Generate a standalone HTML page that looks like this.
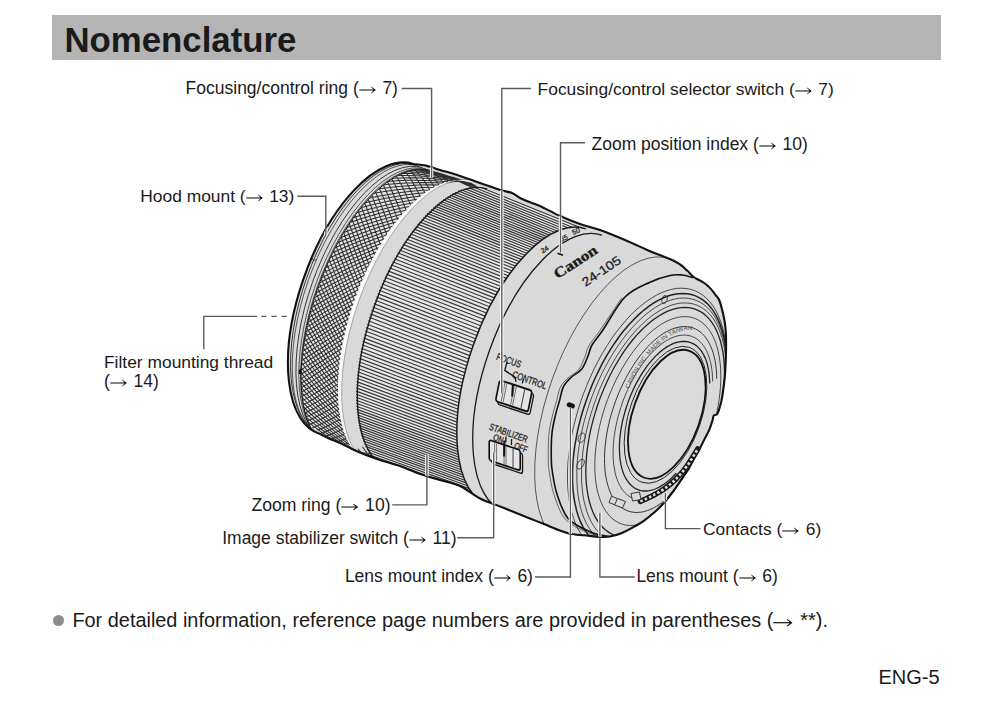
<!DOCTYPE html>
<html><head><meta charset="utf-8"><style>
html,body{margin:0;padding:0;background:#fff}
body{width:999px;height:710px;position:relative;overflow:hidden;font-family:"Liberation Sans",sans-serif;color:#1a1a1a}
.hdr{position:absolute;left:52px;top:15px;width:889px;height:45px;background:#b4b4b4}
.h1{position:absolute;left:64.4px;top:18.9px;font-size:34.8px;font-weight:bold;line-height:1.2;white-space:nowrap}
.l{position:absolute;white-space:nowrap;line-height:1.2}
.ar{width:1.074em;height:0.5714em;vertical-align:-0.05em}
.bul{position:absolute;left:53.1px;top:615.2px;width:11px;height:11px;border-radius:50%;background:#8c8c8c}
svg.main{position:absolute;left:0;top:0}
</style></head><body>
<div class="hdr"></div>
<div class="h1">Nomenclature</div>
<svg class="main" width="999" height="710" viewBox="0 0 999 710">
<defs><clipPath id="sil"><path d="M412 164 C414.3 164.3 421.3 164.6 426 165.6 C430.7 166.6 434.3 168.3 440 170 C445.7 171.7 453.3 173.8 460 176 C466.7 178.2 473.3 180.7 480 183 C486.7 185.3 494.7 188.3 500 190 C505.3 191.7 508.7 191.7 512 193 C515.3 194.3 517.3 196.6 520 198 C522.7 199.4 524.7 200.3 528 201.6 C531.3 202.9 534.7 203.6 540 206 C545.3 208.4 553.3 213 560 216 C566.7 219 573.3 221.7 580 224 C586.7 226.3 592.5 227.3 600 230 C607.5 232.7 616.7 236.5 625 240 C633.3 243.5 643.9 248.6 650 251.2 C656.1 253.8 657.7 254.2 661.6 255.8 C665.5 257.4 670 258.9 673.2 260.5 C676.4 262.1 678.7 263.4 681 265.1 C683.3 266.8 685.1 268.7 687.2 270.6 C689.3 272.6 691.6 275.3 693.4 276.8 C695.2 278.3 696.2 278.5 698 279.5 C699.8 280.5 702.1 281.5 704.2 283 C706.3 284.5 708.5 286.3 710.4 288.4 C712.3 290.4 714.3 293.4 715.8 295.3 C717.3 297.2 718.1 297.3 719.2 300 C720.3 302.7 721.6 307.6 722.5 311.3 C723.4 315.1 724.2 318.8 724.8 322.5 C725.4 326.2 725.7 330.1 725.9 333.8 C726.1 337.6 726.1 341.2 726.1 345 C726.1 348.8 726 352.5 725.9 356.3 C725.8 360.1 725.6 363.8 725.4 367.6 C725.2 371.4 725 375.2 724.6 378.9 C724.2 382.6 723.8 386.2 723.2 390 C722.7 393.8 722.2 397.5 721.3 401.4 C720.3 405.3 718.8 411.1 717.5 413.5 C716.2 415.9 714.6 414.4 713.8 415.5 C713 416.6 713.4 417.6 712.6 420 C711.9 422.4 710.7 426.4 709.3 429.6 C707.9 432.8 706 436.1 704.4 439.4 C702.8 442.7 701.2 445.9 699.4 449.3 C697.5 452.7 695.1 456.7 693.3 460 C691.5 463.3 690.3 466.2 688.6 469 C686.9 471.8 685.8 473.1 683.2 476.9 C680.6 480.6 676.3 487.2 673.1 491.5 C669.9 495.8 667 499.4 664 502.8 C661 506.2 658.4 508.8 655 511.8 C651.6 514.8 647.5 518.2 643.8 520.8 C640 523.4 636.2 525.5 632.5 527.6 C628.8 529.7 625 531.7 621.3 533.2 C617.5 534.7 613.5 535.9 610 536.5 C606.5 537.1 604.5 537.1 600.2 536.9 C595.9 536.7 589.3 535.8 584.2 535.3 C579.1 534.8 573.7 534.5 569.7 533.7 C565.7 532.9 564.3 532.1 560 530.5 C555.7 528.9 549.3 526.2 544 524.1 C538.7 522 533.3 519.8 528 517.7 C522.7 515.6 517.3 513.4 512 511.3 C506.7 509.2 501.3 507 496 504.9 C490.7 502.8 486 501.6 480 498.5 C474 495.4 466.7 489.1 460 486 C453.3 482.9 446.7 482 440 480 C433.3 478 426.7 476.3 420 474 C413.3 471.7 406.7 468.3 400 466 C393.3 463.7 385.7 461.8 380 460 C374.3 458.2 370.7 456.8 366 455 C361.3 453.2 356.3 451 352 449 C347.7 447 343.7 444.7 340 443 C336.3 441.3 333.3 440.5 330 439 C326.7 437.5 321.7 434.8 320 434 A65.3 141.6 19.5 0 1 412.6 163.7Z"/></clipPath>
<pattern id="kn" width="4.8" height="5.2" patternUnits="userSpaceOnUse" patternTransform="rotate(-8)"><rect width="4.8" height="5.2" fill="#333"/><path d="M2.40 0.68L4.18 2.60L2.40 4.52L0.62 2.60Z M0.00 -1.92L1.78 0.00L0.00 1.92L-1.78 0.00Z M4.80 -1.92L6.58 0.00L4.80 1.92L3.02 0.00Z M0.00 3.28L1.78 5.20L0.00 7.12L-1.78 5.20Z M4.80 3.28L6.58 5.20L4.80 7.12L3.02 5.20Z" fill="#e2e2e2"/></pattern>
</defs>
<path d="M412 164 C414.3 164.3 421.3 164.6 426 165.6 C430.7 166.6 434.3 168.3 440 170 C445.7 171.7 453.3 173.8 460 176 C466.7 178.2 473.3 180.7 480 183 C486.7 185.3 494.7 188.3 500 190 C505.3 191.7 508.7 191.7 512 193 C515.3 194.3 517.3 196.6 520 198 C522.7 199.4 524.7 200.3 528 201.6 C531.3 202.9 534.7 203.6 540 206 C545.3 208.4 553.3 213 560 216 C566.7 219 573.3 221.7 580 224 C586.7 226.3 592.5 227.3 600 230 C607.5 232.7 616.7 236.5 625 240 C633.3 243.5 643.9 248.6 650 251.2 C656.1 253.8 657.7 254.2 661.6 255.8 C665.5 257.4 670 258.9 673.2 260.5 C676.4 262.1 678.7 263.4 681 265.1 C683.3 266.8 685.1 268.7 687.2 270.6 C689.3 272.6 691.6 275.3 693.4 276.8 C695.2 278.3 696.2 278.5 698 279.5 C699.8 280.5 702.1 281.5 704.2 283 C706.3 284.5 708.5 286.3 710.4 288.4 C712.3 290.4 714.3 293.4 715.8 295.3 C717.3 297.2 718.1 297.3 719.2 300 C720.3 302.7 721.6 307.6 722.5 311.3 C723.4 315.1 724.2 318.8 724.8 322.5 C725.4 326.2 725.7 330.1 725.9 333.8 C726.1 337.6 726.1 341.2 726.1 345 C726.1 348.8 726 352.5 725.9 356.3 C725.8 360.1 725.6 363.8 725.4 367.6 C725.2 371.4 725 375.2 724.6 378.9 C724.2 382.6 723.8 386.2 723.2 390 C722.7 393.8 722.2 397.5 721.3 401.4 C720.3 405.3 718.8 411.1 717.5 413.5 C716.2 415.9 714.6 414.4 713.8 415.5 C713 416.6 713.4 417.6 712.6 420 C711.9 422.4 710.7 426.4 709.3 429.6 C707.9 432.8 706 436.1 704.4 439.4 C702.8 442.7 701.2 445.9 699.4 449.3 C697.5 452.7 695.1 456.7 693.3 460 C691.5 463.3 690.3 466.2 688.6 469 C686.9 471.8 685.8 473.1 683.2 476.9 C680.6 480.6 676.3 487.2 673.1 491.5 C669.9 495.8 667 499.4 664 502.8 C661 506.2 658.4 508.8 655 511.8 C651.6 514.8 647.5 518.2 643.8 520.8 C640 523.4 636.2 525.5 632.5 527.6 C628.8 529.7 625 531.7 621.3 533.2 C617.5 534.7 613.5 535.9 610 536.5 C606.5 537.1 604.5 537.1 600.2 536.9 C595.9 536.7 589.3 535.8 584.2 535.3 C579.1 534.8 573.7 534.5 569.7 533.7 C565.7 532.9 564.3 532.1 560 530.5 C555.7 528.9 549.3 526.2 544 524.1 C538.7 522 533.3 519.8 528 517.7 C522.7 515.6 517.3 513.4 512 511.3 C506.7 509.2 501.3 507 496 504.9 C490.7 502.8 486 501.6 480 498.5 C474 495.4 466.7 489.1 460 486 C453.3 482.9 446.7 482 440 480 C433.3 478 426.7 476.3 420 474 C413.3 471.7 406.7 468.3 400 466 C393.3 463.7 385.7 461.8 380 460 C374.3 458.2 370.7 456.8 366 455 C361.3 453.2 356.3 451 352 449 C347.7 447 343.7 444.7 340 443 C336.3 441.3 333.3 440.5 330 439 C326.7 437.5 321.7 434.8 320 434 A65.3 141.6 19.5 0 1 412.6 163.7Z" fill="#d9d9d9"/>
<g clip-path="url(#sil)">
<path d="M430.7 170.7 A68.2 148 19.5 0 0 331.9 449.7 L369.8 462.5 A68.5 148.6 19.5 0 1 469 182.3Z" fill="#e3e3e3"/>
<path d="M447 183 451.1 182.1 454.9 181.6 458.6 181.3 462.2 181.3 465.7 181.7 469 182.3M444.1 179.6 448 179.1 451.7 178.9 455.2 179 458.7 179.4 462 180.2 465.1 181.2M441 176.7 444.7 176.5 448.2 176.7 451.6 177.2 454.9 178 458.1 179.1 461.1 180.6M437.7 174.2 441.2 174.4 444.6 175 447.8 175.9 451 177.1 454 178.6 456.9 180.5M434.2 172.2 437.5 172.8 440.8 173.7 443.9 175 446.9 176.6 449.8 178.6 452.6 180.8M430.5 170.6 433.7 171.6 436.8 173 439.8 174.7 442.7 176.7 445.5 179 448.2 181.7M426.6 169.5 429.7 171 432.7 172.7 435.6 174.8 438.4 177.2 441.1 180 443.7 183M422.6 169 425.6 170.8 428.4 172.9 431.2 175.4 433.9 178.2 436.5 181.4 439.1 184.8M418.4 168.9 421.3 171.1 424.1 173.6 426.7 176.5 429.4 179.7 431.9 183.3 434.4 187.1M414.2 169.3 416.9 171.9 419.6 174.8 422.2 178.1 424.8 181.7 427.3 185.6 429.7 189.9M409.8 170.1 412.4 173.1 415 176.5 417.6 180.2 420.1 184.2 422.5 188.5 425 193.1M405.3 171.5 407.8 174.9 410.4 178.6 412.9 182.7 415.3 187.1 417.8 191.7 420.2 196.7M400.7 173.3 403.2 177.1 405.7 181.2 408.2 185.7 410.6 190.4 413 195.5 415.4 200.8M396 175.6 398.5 179.8 401 184.3 403.4 189.1 405.8 194.2 408.2 199.6 410.7 205.3M391.5 178.3 394 182.8 396.4 187.7 398.8 192.8 401.3 198.3 403.7 204 406.1 210M387.2 181.2 389.6 186.1 392 191.2 394.5 196.7 396.9 202.5 399.4 208.5 401.8 214.8M383 184.3 385.4 189.5 387.9 195 390.3 200.8 392.8 206.8 395.3 213.1 397.8 219.7M379 187.6 381.4 193.1 383.9 198.9 386.3 205 388.8 211.3 391.4 217.9 393.9 224.7M375.2 191.1 377.6 196.9 380.1 202.9 382.6 209.2 385.1 215.8 387.7 222.6 390.3 229.7M371.5 194.7 373.9 200.8 376.4 207.1 378.9 213.6 381.5 220.4 384.1 227.5 386.8 234.7M367.9 198.5 370.4 204.8 372.9 211.3 375.5 218.1 378.1 225.1 380.8 232.3 383.5 239.8M364.4 202.3 367 208.8 369.5 215.6 372.1 222.6 374.8 229.8 377.6 237.2 380.4 244.8M361.1 206.3 363.7 213 366.3 220 368.9 227.1 371.7 234.5 374.5 242.1 377.4 249.9M357.9 210.3 360.5 217.2 363.2 224.4 365.9 231.8 368.7 239.3 371.6 247.1 374.6 255M354.8 214.4 357.4 221.5 360.2 228.9 362.9 236.4 365.8 244.1 368.8 252 371.9 260.1M351.8 218.6 354.5 225.9 357.3 233.4 360.1 241.1 363.1 249 366.1 257 369.3 265.2M348.9 222.9 351.6 230.3 354.5 238 357.4 245.8 360.5 253.8 363.6 262 366.8 270.3M346 227.2 348.9 234.8 351.8 242.6 354.8 250.5 357.9 258.7 361.2 267 364.5 275.4M343.3 231.5 346.2 239.3 349.2 247.2 352.3 255.3 355.5 263.6 358.8 271.9 362.3 280.4M340.7 235.9 343.7 243.8 346.7 251.9 349.9 260.1 353.2 268.4 356.6 276.9 360.2 285.5M338.1 240.4 341.2 248.4 344.3 256.6 347.6 264.9 351 273.3 354.5 281.9 358.2 290.5M335.7 244.9 338.8 253 342 261.3 345.4 269.7 348.9 278.2 352.5 286.9 356.3 295.6M333.3 249.5 336.5 257.7 339.8 266.1 343.3 274.5 346.9 283.1 350.6 291.8 354.4 300.6M331 254 334.3 262.4 337.7 270.8 341.3 279.4 345 288.1 348.8 296.8 352.7 305.6M328.8 258.7 332.2 267.1 335.7 275.6 339.3 284.2 343.1 293 347 301.8 351.1 310.6M326.6 263.3 330.1 271.8 333.7 280.4 337.5 289.1 341.4 297.9 345.4 306.7 349.6 315.6M324.6 268 328.2 276.6 331.9 285.2 335.7 294 339.7 302.8 343.9 311.6 348.2 320.5M322.6 272.7 326.3 281.3 330.1 290.1 334.1 298.9 338.2 307.7 342.4 316.6 346.9 325.5M320.7 277.5 324.5 286.1 328.4 294.9 332.5 303.7 336.7 312.6 341.1 321.5 345.6 330.4M318.9 282.2 322.8 291 326.8 299.8 331 308.6 335.3 317.5 339.8 326.4 344.5 335.3M317.1 287 321.1 295.8 325.2 304.6 329.5 313.5 334 322.4 338.6 331.3 343.4 340.1M315.5 291.8 319.5 300.7 323.8 309.5 328.2 318.4 332.8 327.3 337.5 336.1 342.5 345M313.9 296.7 318.1 305.5 322.4 314.4 327 323.3 331.7 332.2 336.5 341 341.6 349.8M312.3 301.6 316.7 310.4 321.1 319.3 325.8 328.2 330.6 337 335.6 345.8 340.8 354.6M310.9 306.5 315.3 315.3 319.9 324.2 324.7 333 329.7 341.9 334.8 350.7 340.1 359.4M309.6 311.4 314.1 320.2 318.8 329.1 323.7 337.9 328.8 346.7 334.1 355.4 339.5 364.1M308.3 316.3 313 325.2 317.8 334 322.8 342.8 328 351.5 333.4 360.2 339 368.8M307.1 321.2 311.9 330.1 316.9 338.9 322 347.7 327.4 356.4 332.9 365 338.6 373.5M306 326.2 310.9 335 316 343.8 321.3 352.5 326.8 361.1 332.5 369.7 338.3 378.1M305 331.2 310 340 315.3 348.7 320.7 357.4 326.3 365.9 332.1 374.4 338.1 382.7M304 336.2 309.2 344.9 314.6 353.6 320.2 362.2 325.9 370.7 331.9 379.1 338 387.3M303.2 341.2 308.5 349.9 314 358.5 319.7 367 325.6 375.4 331.7 383.7 338 391.8M302.4 346.2 307.9 354.8 313.6 363.4 319.4 371.8 325.5 380.1 331.7 388.3 338.1 396.3M301.8 351.3 307.4 359.8 313.2 368.3 319.2 376.6 325.4 384.8 331.8 392.8 338.3 400.7M301.3 356.3 307 364.8 313 373.1 319.1 381.4 325.4 389.4 331.9 397.4 338.6 405.1M300.8 361.3 306.7 369.7 312.8 378 319.1 386.1 325.6 394 332.2 401.8 339.1 409.4M300.5 366.4 306.5 374.7 312.8 382.8 319.2 390.8 325.9 398.6 332.7 406.3 339.7 413.7M300.3 371.4 306.5 379.6 312.9 387.6 319.5 395.5 326.3 403.1 333.2 410.6 340.4 417.9M300.2 376.5 306.6 384.5 313.1 392.4 319.9 400.1 326.8 407.6 333.9 414.9 341.3 422M300.3 381.6 306.8 389.4 313.5 397.2 320.4 404.7 327.5 412.1 334.8 419.2 342.3 426.1M300.4 386.6 307.1 394.3 314 401.9 321.1 409.3 328.4 416.4 335.8 423.3 343.4 430M300.8 391.6 307.7 399.2 314.7 406.6 321.9 413.8 329.4 420.7 337 427.4 344.7 433.9M301.3 396.6 308.3 404 315.5 411.2 323 418.2 330.5 424.9 338.3 431.4 346.2 437.7M302 401.6 309.2 408.8 316.6 415.8 324.2 422.5 331.9 429.1 339.8 435.3 347.9 441.3M302.9 406.5 310.2 413.5 317.8 420.3 325.6 426.8 333.5 433.1 341.6 439.1 349.8 444.8M303.9 411.4 311.5 418.2 319.3 424.7 327.2 431 335.3 437 343.5 442.7 352 448.1M305.3 416.3 313 422.8 320.9 429 329.1 435 337.3 440.7 345.8 446.1 354.4 451.3M306.8 421 314.8 427.2 322.9 433.2 331.2 438.9 339.6 444.3 348.2 449.4 357 454.2M308.7 425.6 316.8 431.6 325.2 437.2 333.6 442.6 342.2 447.6 351 452.4 359.9 456.9M310.9 430.1 319.2 435.7 327.7 441 336.4 446 345.2 450.8 354.1 455.2 363.2 459.3M313.4 434.3 321.9 439.5 330.6 444.5 339.4 449.1 348.4 453.5 357.5 457.5 366.8 461.2M316.1 438 324.8 442.9 333.7 447.5 342.7 451.8 351.8 455.8 361.1 459.4 370.5 462.7M319 441.4 327.9 445.9 337 450.1 346.1 454 355.4 457.6 364.9 460.8 374.4 463.7M322.2 444.2 331.3 448.4 340.5 452.2 349.8 455.7 359.2 458.9 368.8 461.7 378.5 464.3M325.5 446.6 334.8 450.4 344.1 453.8 353.6 456.9 363.2 459.7 372.9 462.2 382.7 464.3M329.1 448.6 338.5 451.9 348 455 357.6 457.7 367.3 460.1 377.1 462.1 387 463.8M332.8 450 342.3 453 352 455.6 361.7 457.9 371.5 459.9 381.4 461.6 391.4 462.9M336.7 451 346.4 453.6 356.1 455.8 366 457.7 375.9 459.3 385.9 460.5 396 461.5M340.8 451.5 350.5 453.7 360.4 455.5 370.3 457 380.3 458.2 390.4 459 400.6 459.6M345 451.5 354.8 453.3 364.8 454.7 374.8 455.8 384.9 456.6 395 457.1 405.2 457.2M349.3 451 359.2 452.4 369.3 453.4 379.4 454.1 389.5 454.5 399.7 454.6 410 454.4M430.7 170.7 440.1 173.9 449.5 177.4 458.6 181.3 467.7 185.4 476.6 189.9 485.4 194.7M426.8 169.6 436.4 172.4 445.9 175.5 455.2 179 464.4 182.8 473.5 186.9 482.5 191.3M422.8 169 432.5 171.4 442.1 174.1 451.6 177.2 461 180.6 470.2 184.3 479.4 188.3M418.7 168.9 428.5 170.9 438.2 173.2 447.8 175.9 457.4 178.9 466.8 182.2 476 185.8M414.4 169.2 424.3 170.8 434.1 172.8 443.9 175 453.5 177.6 463.1 180.5 472.5 183.8M410 170.1 420 171.3 429.9 172.8 439.8 174.7 449.6 176.9 459.2 179.4 468.8 182.2M405.5 171.4 415.6 172.2 425.6 173.3 435.6 174.8 445.4 176.6 455.2 178.7 464.9 181.2M400.9 173.2 411.1 173.6 421.2 174.4 431.2 175.4 441.2 176.8 451.1 178.5 460.9 180.6M396.3 175.5 406.5 175.5 416.6 175.8 426.7 176.5 436.8 177.5 446.8 178.8 456.7 180.5M391.6 178.2 401.8 177.9 412 177.8 422.2 178.1 432.3 178.7 442.4 179.6 452.4 180.9M386.9 181.4 397.1 180.7 407.4 180.3 417.6 180.2 427.8 180.4 437.9 180.9 448 181.8M382.1 185 392.4 184 402.6 183.2 412.9 182.7 423.1 182.5 433.3 182.7 443.5 183.1M377.3 189.1 387.6 187.7 397.9 186.5 408.2 185.7 418.4 185.1 428.6 184.9 438.9 185M372.6 193.6 382.9 191.8 393.1 190.3 403.4 189.1 413.7 188.2 423.9 187.6 434.2 187.3M368.1 198.3 378.3 196.2 388.6 194.4 398.8 192.8 409.1 191.6 419.4 190.6 429.7 189.9M363.8 203.1 374 200.7 384.2 198.6 394.5 196.7 404.7 195.1 415 193.8 425.3 192.8M359.8 207.9 369.9 205.3 380.1 202.9 390.3 200.8 400.6 198.9 410.8 197.3 421.1 196M355.9 212.9 366 210 376.2 207.4 386.3 205 396.6 202.8 406.8 200.9 417.1 199.3M352.3 217.9 362.3 214.8 372.4 211.9 382.6 209.2 392.8 206.8 403 204.7 413.2 202.8M348.8 222.9 358.8 219.6 368.8 216.5 378.9 213.6 389.1 211 399.3 208.6 409.5 206.5M345.6 227.9 355.5 224.4 365.4 221.1 375.5 218.1 385.6 215.2 395.7 212.6 405.9 210.2M342.5 233 352.3 229.3 362.2 225.8 372.1 222.6 382.2 219.5 392.3 216.7 402.5 214.1M339.5 238 349.2 234.2 359 230.6 368.9 227.1 378.9 223.9 389 220.9 399.1 218.1M336.7 243.1 346.3 239.1 356 235.4 365.9 231.8 375.8 228.3 385.8 225.1 395.9 222.1M334 248.2 343.5 244.1 353.2 240.2 362.9 236.4 372.8 232.8 382.7 229.4 392.8 226.2M331.4 253.2 340.9 249 350.4 245 360.1 241.1 369.9 237.4 379.8 233.8 389.7 230.4M329 258.3 338.3 254 347.8 249.8 357.4 245.8 367.1 241.9 376.9 238.2 386.8 234.7M326.6 263.4 335.9 259 345.3 254.7 354.8 250.5 364.4 246.5 374.2 242.7 384 239M324.4 268.4 333.6 263.9 342.9 259.6 352.3 255.3 361.9 251.2 371.5 247.2 381.3 243.4M322.3 273.4 331.4 268.9 340.6 264.4 349.9 260.1 359.4 255.9 368.9 251.8 378.6 247.8M320.3 278.5 329.3 273.9 338.4 269.3 347.6 264.9 357 260.6 366.5 256.4 376.1 252.3M318.4 283.5 327.3 278.8 336.3 274.2 345.4 269.7 354.7 265.3 364.1 261 373.6 256.8M316.6 288.5 325.4 283.8 334.3 279.1 343.3 274.5 352.5 270.1 361.8 265.7 371.2 261.4M314.9 293.5 323.5 288.7 332.3 284 341.3 279.4 350.3 274.8 359.6 270.4 368.9 266M313.3 298.4 321.8 293.7 330.5 288.9 339.3 284.2 348.3 279.6 357.4 275.1 366.7 270.6M311.8 303.4 320.2 298.6 328.8 293.8 337.5 289.1 346.4 284.4 355.4 279.8 364.5 275.3M310.4 308.3 318.7 303.5 327.1 298.7 335.7 294 344.5 289.3 353.4 284.6 362.5 280M309.1 313.2 317.2 308.4 325.6 303.6 334.1 298.9 342.7 294.1 351.5 289.4 360.5 284.8M307.8 318.1 315.9 313.3 324.1 308.5 332.5 303.7 341 299 349.7 294.2 358.6 289.5M306.7 323 314.6 318.2 322.7 313.4 331 308.6 339.4 303.8 348 299 356.7 294.3M305.6 327.9 313.4 323.1 321.4 318.3 329.5 313.5 337.9 308.7 346.3 303.9 355 299.1M304.7 332.7 312.3 328 320.2 323.2 328.2 318.4 336.4 313.6 344.8 308.8 353.3 304M303.8 337.5 311.3 332.8 319.1 328.1 327 323.3 335 318.5 343.3 313.7 351.7 308.8M303 342.3 310.4 337.6 318 332.9 325.8 328.2 333.8 323.4 341.9 318.6 350.2 313.7M302.3 347 309.6 342.4 317.1 337.8 324.7 333 332.5 328.3 340.6 323.5 348.7 318.6M301.7 351.7 308.9 347.2 316.2 342.6 323.7 337.9 331.4 333.2 339.3 328.4 347.4 323.6M301.2 356.4 308.3 352 315.5 347.4 322.8 342.8 330.4 338.1 338.2 333.3 346.1 328.5M300.8 361.1 307.7 356.7 314.8 352.2 322 347.7 329.5 343 337.1 338.3 344.9 333.5M300.5 365.7 307.3 361.4 314.2 357 321.3 352.5 328.6 347.9 336.1 343.2 343.8 338.5M300.3 370.3 306.9 366.1 313.7 361.8 320.7 357.4 327.9 352.8 335.2 348.2 342.7 343.5M300.2 374.8 306.7 370.8 313.3 366.5 320.2 362.2 327.2 357.7 334.4 353.2 341.8 348.5M300.2 379.3 306.5 375.4 313 371.3 319.7 367 326.6 362.6 333.7 358.1 341 353.5M300.3 383.8 306.5 380 312.9 376 319.4 371.8 326.2 367.5 333.1 363.1 340.2 358.6M300.5 388.2 306.6 384.5 312.8 380.6 319.2 376.6 325.8 372.4 332.6 368.1 339.6 363.6M300.9 392.6 306.8 389 312.8 385.3 319.1 381.4 325.6 377.3 332.2 373 339 368.7M301.3 396.9 307.1 393.5 313 389.9 319.1 386.1 325.4 382.1 331.9 378 338.6 373.7M301.9 401.1 307.5 397.9 313.3 394.4 319.2 390.8 325.4 387 331.7 383 338.3 378.8M302.6 405.3 308.1 402.3 313.7 399 319.5 395.5 325.5 391.8 331.7 387.9 338.1 383.9M303.5 409.4 308.8 406.5 314.2 403.4 319.9 400.1 325.7 396.6 331.8 392.9 338 389M304.5 413.5 309.6 410.8 314.9 407.9 320.4 404.7 326.1 401.4 332 397.8 338 394M305.6 417.4 310.6 414.9 315.8 412.2 321.1 409.3 326.6 406.1 332.3 402.7 338.2 399.1M306.9 421.3 311.8 419 316.8 416.5 321.9 413.8 327.3 410.8 332.8 407.6 338.6 404.1M308.4 425 313.1 423 317.9 420.7 323 418.2 328.1 415.4 333.5 412.4 339.1 409.2M310.1 428.6 314.6 426.9 319.3 424.8 324.2 422.5 329.2 420 334.4 417.2 339.8 414.2M312 432.1 316.4 430.6 320.9 428.8 325.6 426.8 330.4 424.5 335.4 421.9 340.6 419.1M314.1 435.4 318.3 434.2 322.7 432.7 327.2 431 331.9 428.9 336.7 426.6 341.7 424.1M316.5 438.6 320.5 437.7 324.7 436.5 329.1 435 333.6 433.2 338.2 431.2 343.1 428.9M319.2 441.5 323 440.9 327 440 331.2 438.9 335.5 437.4 340 435.7 344.6 433.7M322.1 444.1 325.8 443.9 329.6 443.4 333.6 442.6 337.8 441.4 342.1 440 346.5 438.3M325.4 446.5 328.9 446.7 332.6 446.5 336.4 446 340.3 445.3 344.4 444.2 348.7 442.8M328.9 448.5 332.3 449 335.8 449.2 339.4 449.1 343.2 448.7 347.1 448 351.2 447M332.6 450 335.8 450.9 339.2 451.5 342.7 451.8 346.3 451.8 350 451.4 353.9 450.8M336.5 451 339.6 452.3 342.8 453.3 346.1 454 349.6 454.3 353.2 454.4 356.9 454.1M340.5 451.5 343.5 453.2 346.6 454.6 349.8 455.7 353.1 456.4 356.5 456.9 360.1 457M344.7 451.5 347.6 453.6 350.5 455.5 353.6 456.9 356.8 458.1 360 458.9 363.4 459.4M349 451.1 351.8 453.6 354.6 455.8 357.6 457.7 360.6 459.2 363.7 460.4 367 461.3M353.4 450.1 356.1 453.1 358.9 455.7 361.7 457.9 364.6 459.9 367.6 461.5 370.7 462.8M358 448.7 360.6 452 363.2 455 366 457.7 368.8 460.1 371.7 462.1 374.6 463.8M362.5 446.8 365.1 450.5 367.7 453.9 370.3 457 373 459.8 375.8 462.2 378.7 464.3M367.2 444.5 369.7 448.6 372.2 452.3 374.8 455.8 377.4 459 380.1 461.8 382.9 464.3M371.9 441.6 374.4 446.1 376.9 450.3 379.4 454.1 381.9 457.7 384.6 460.9 387.2 463.8" stroke="#2e2e2e" stroke-width="1.05" fill="none"/>
<path d="M469 182.3 A68.5 148.6 19.5 0 0 369.8 462.5 L373.9 467 A69.8 151.5 19.5 0 1 475.1 181.4Z" fill="#fbfbfb"/>
<path d="M487.2 188.8 A68.5 148.6 19.5 0 0 388 468.9 L488.2 505.1 A67.5 146.5 19.5 0 1 586 228.9Z" fill="#e8e8e8"/>
<path d="M480.5 187.2L579.4 227.3M473.4 187L572.4 227.2M468.6 187.6L567.7 227.8M464.7 188.6L563.8 228.7M461.2 189.7L560.4 229.8M458.1 190.9L557.3 231M455.2 192.2L554.5 232.3M452.5 193.6L551.8 233.7M450 195.1L549.3 235.1M447.6 196.5L546.9 236.6M445.3 198L544.7 238.1M443.1 199.6L542.5 239.6M440.9 201.2L540.4 241.1M438.9 202.8L538.4 242.7M436.9 204.4L536.4 244.3M434.9 206.1L534.5 246M433 207.8L532.6 247.7M431.1 209.6L530.7 249.5M429.1 211.5L528.7 251.3M427.2 213.4L526.8 253.2M425.3 215.4L524.9 255.2M423.3 217.5L523 257.3M421.4 219.7L521.2 259.4M419.5 221.9L519.3 261.5M417.6 224.1L517.4 263.8M415.7 226.5L515.5 266.1M413.8 228.9L513.7 268.4M412 231.3L511.8 270.8M410.1 233.8L510 273.3M408.3 236.4L508.2 275.8M406.5 239L506.4 278.4M404.7 241.7L504.6 281.1M402.9 244.4L502.9 283.7M401.1 247.2L501.1 286.5M399.4 250L499.4 289.2M397.7 252.8L497.7 292.1M396 255.8L496.1 294.9M394.3 258.7L494.4 297.9M392.6 261.7L492.8 300.8M391 264.7L491.2 303.8M389.4 267.8L489.6 306.8M387.8 270.9L488.1 309.9M386.3 274.1L486.5 313M384.8 277.3L485 316.1M383.3 280.5L483.6 319.3M381.9 283.7L482.1 322.5M380.4 287L480.8 325.7M379.1 290.3L479.4 329M377.7 293.6L478.1 332.2M376.4 296.9L476.8 335.5M375.1 300.3L475.5 338.8M373.9 303.6L474.3 342.2M372.6 307L473.1 345.5M371.5 310.4L471.9 348.9M370.3 313.9L470.8 352.2M369.2 317.3L469.7 355.6M368.2 320.7L468.7 359M367.2 324.2L467.7 362.4M366.2 327.6L466.7 365.8M365.3 331L465.8 369.2M364.4 334.5L464.9 372.6M363.5 337.9L464.1 376M362.7 341.4L463.3 379.3M362 344.8L462.6 382.7M361.3 348.2L461.9 386.1M360.6 351.6L461.2 389.5M360 355L460.6 392.8M359.4 358.4L460 396.2M358.9 361.8L459.5 399.5M358.4 365.1L459 402.8M358 368.5L458.6 406.1M357.6 371.8L458.2 409.3M357.2 375.1L457.9 412.6M356.9 378.3L457.6 415.8M356.7 381.6L457.3 419M356.5 384.8L457.1 422.1M356.3 387.9L457 425.3M356.2 391.1L456.9 428.3M356.2 394.2L456.8 431.4M356.2 397.2L456.8 434.4M356.2 400.2L456.9 437.4M356.3 403.2L457 440.3M356.4 406.2L457.1 443.2M356.6 409.1L457.3 446.1M356.9 411.9L457.5 448.9M357.2 414.7L457.8 451.6M357.5 417.4L458.1 454.4M357.9 420.1L458.5 457M358.3 422.8L458.9 459.6M358.8 425.4L459.4 462.2M359.3 427.9L459.9 464.7M359.9 430.5L460.5 467.2M360.6 433L461.2 469.7M361.3 435.6L461.9 472.3M362.2 438.3L462.8 474.9M363.2 440.9L463.7 477.5M364.2 443.7L464.8 480.2M365.5 446.4L466 482.9M366.9 449.3L467.4 485.7M368.6 452.2L469.1 488.6M370.6 455.3L471.1 491.6M373.2 458.5L473.6 494.8M376.7 462.1L477 498.3" stroke="#383838" stroke-width="1.2" fill="none"/>
<path d="M475.1 181.4 A69.8 151.5 19.5 0 0 373.9 467" stroke="#888" stroke-width="0.7" fill="none"/>
<path d="M412.6 163.7 A65.3 141.6 19.5 0 0 318 430.7 L331.9 449.7 A68.2 148 19.5 0 1 430.7 170.7Z" fill="#dadada"/>
<path d="M415.7 164.9 A65.8 142.7 19.5 0 0 320.4 433.9" stroke="#222" stroke-width="0.9" fill="none"/>
<path d="M419.1 166.2 A66.3 143.9 19.5 0 0 323 437.5" stroke="#333" stroke-width="0.8" fill="none"/>
<path d="M422.7 167.6 A66.9 145.2 19.5 0 0 325.8 441.3" stroke="#222" stroke-width="0.9" fill="none"/>
<path d="M426.4 169 A67.5 146.5 19.5 0 0 328.6 445.1" stroke="#333" stroke-width="0.8" fill="none"/>
<path d="M428.9 170 A67.9 147.4 19.5 0 0 330.5 447.8" stroke="#333" stroke-width="0.8" fill="none"/>
<path d="M430.7 170.7 A68.2 148 19.5 0 0 331.9 449.7" stroke="#1a1a1a" stroke-width="1" fill="none"/>
<path d="M487.2 188.8 A68.5 148.6 19.5 0 0 388 468.9" stroke="#1a1a1a" stroke-width="1.4" fill="none"/>
<path d="M586 228.9 A67.5 146.5 19.5 0 0 488.2 505.1" stroke="#1a1a1a" stroke-width="1.5" fill="none"/>
<path d="M601.9 235.2 A67.5 146.5 19.5 0 0 504.1 511.4" stroke="#1a1a1a" stroke-width="1.3" fill="none"/>
<path d="M669.9 258.8 A70.7 153.3 19.5 0 0 567.5 547.8" stroke="#333" stroke-width="0.8" fill="none"/>
<path d="M721.9 410.4 723.6 401.9 724.9 393.4 726 385.1 726.7 376.9 727.1 368.9 727.1 361.1 726.8 353.5 726.2 346.3 725.2 339.3 723.9 332.7 722.3 326.5 720.4 320.6 718.1 315.2 715.6 310.2 712.8 305.7 709.7 301.7 706.3 298.1 702.7 295.1 698.8 292.6 694.8 290.7 690.5 289.3 686 288.5 681.4 288.2 676.7 288.4 671.8 289.3 666.8 290.7 661.8 292.6 656.6 295.1 651.5 298.1 646.3 301.6 641.1 305.6 635.9 310.1 630.8 315 625.8 320.5 620.9 326.3 616 332.5 611.3 339.1 606.8 346.1 602.4 353.3 598.2 360.9 594.2 368.7 590.5 376.7 587 384.9 583.7 393.2 580.7 401.7 578 410.2 575.6 418.8 573.4 427.4 571.6 435.9 570.1 444.4 569 452.8 568.1 461.1 567.6 469.2 567.5 477.1 567.6 484.7 568.2 492.1 569 499.1 570.2 505.9 571.7 512.3 573.5 518.3 575.6 523.8 578 529 580.8 533.7 583.8 537.9 587 541.6 590.6 544.8 594.3 547.5 598.3 549.6 602.5 551.2 606.9 552.3 611.4 552.8 616.1 552.7 621 552.1 625.9 550.9 631 549.2 636.1 546.9 641.2 544.1 646.4 540.8 651.6 536.9 656.8 532.6 661.9 527.8 666.9 522.6 671.9 516.9 676.8 510.8 681.5 504.3 686.2 497.5 690.6 490.4 694.9 482.9 698.9 475.2" stroke="#222" stroke-width="0.8" fill="none"/>
<path d="M721.8 411.7 723.4 403.4 724.8 395.2 725.8 387.2 726.5 379.2 726.8 371.5 726.9 363.9 726.6 356.6 726 349.6 725 342.9 723.8 336.5 722.2 330.5 720.3 324.8 718.2 319.6 715.7 314.8 713 310.4 710 306.5 706.7 303.1 703.2 300.2 699.5 297.8 695.6 295.9 691.5 294.5 687.2 293.7 682.7 293.4 678.1 293.7 673.4 294.5 668.6 295.8 663.7 297.7 658.7 300.1 653.7 303 648.7 306.4 643.7 310.3 638.7 314.6 633.8 319.4 628.9 324.7 624.1 330.3 619.4 336.3 614.9 342.7 610.5 349.4 606.3 356.4 602.2 363.7 598.4 371.3 594.7 379 591.3 386.9 588.2 395 585.3 403.2 582.6 411.5 580.3 419.8 578.2 428.1 576.5 436.3 575 444.6 573.9 452.7 573.1 460.7 572.6 468.5 572.5 476.1 572.6 483.5 573.1 490.6 573.9 497.5 575.1 504 576.5 510.2 578.3 516 580.3 521.4 582.7 526.3 585.3 530.9 588.2 534.9 591.4 538.5 594.8 541.6 598.4 544.2 602.3 546.3 606.4 547.8 610.6 548.9 615 549.3 619.5 549.3 624.2 548.7 629 547.5 633.9 545.9 638.8 543.7 643.8 540.9 648.8 537.7 653.8 534 658.8 529.8 663.8 525.2 668.7 520.1 673.5 514.6 678.2 508.8 682.8 502.5 687.3 495.9 691.6 489 695.7 481.8 699.6 474.4" stroke="#222" stroke-width="1.5" fill="none"/>
<path d="M721.7 412.8 723.3 404.7 724.6 396.8 725.6 389 726.3 381.3 726.6 373.7 726.6 366.4 726.4 359.3 725.8 352.5 724.9 346 723.7 339.8 722.1 333.9 720.3 328.4 718.2 323.3 715.8 318.7 713.2 314.4 710.3 310.7 707.1 307.3 703.7 304.5 700.1 302.2 696.3 300.4 692.3 299.1 688.1 298.3 683.8 298 679.3 298.2 674.7 299 670.1 300.3 665.3 302.1 660.5 304.4 655.6 307.3 650.8 310.6 645.9 314.3 641.1 318.6 636.3 323.2 631.6 328.3 626.9 333.8 622.4 339.6 618 345.8 613.7 352.3 609.6 359.1 605.7 366.2 601.9 373.5 598.4 381.1 595.1 388.8 592 396.6 589.2 404.5 586.7 412.5 584.4 420.6 582.4 428.7 580.7 436.7 579.3 444.7 578.2 452.6 577.4 460.3 576.9 467.9 576.8 475.3 577 482.5 577.4 489.4 578.2 496 579.3 502.4 580.7 508.4 582.4 514 584.4 519.2 586.7 524.1 589.3 528.4 592.1 532.4 595.2 535.9 598.5 538.9 602 541.4 605.7 543.4 609.7 544.9 613.8 545.9 618.1 546.4 622.5 546.3 627 545.7 631.7 544.6 636.4 543 641.2 540.9 646 538.2 650.9 535.1 655.8 531.5 660.6 527.5 665.4 523 670.2 518 674.8 512.7 679.4 507 683.9 500.9 688.2 494.5 692.4 487.8 696.4 480.8 700.2 473.6" stroke="#222" stroke-width="0.8" fill="none"/>
<path d="M721.6 413.8 723.1 406.1 724.3 398.4 725.3 390.8 725.9 383.4 726.3 376.1 726.3 369 726 362.2 725.5 355.6 724.6 349.3 723.4 343.3 721.9 337.6 720.2 332.3 718.2 327.4 715.9 322.9 713.3 318.8 710.5 315.1 707.4 311.9 704.1 309.2 700.6 307 697 305.2 693.1 303.9 689.1 303.2 684.9 302.9 680.6 303.1 676.1 303.9 671.6 305.1 667 306.9 662.4 309.1 657.7 311.9 653 315 648.3 318.7 643.6 322.8 639 327.3 634.4 332.2 629.9 337.5 625.5 343.1 621.3 349.1 617.1 355.4 613.2 362 609.4 368.8 605.7 375.9 602.3 383.2 599.1 390.6 596.2 398.2 593.5 405.9 591 413.6 588.8 421.4 586.9 429.2 585.2 437 583.9 444.7 582.8 452.3 582.1 459.8 581.6 467.1 581.5 474.3 581.6 481.2 582.1 487.9 582.8 494.3 583.9 500.4 585.3 506.2 586.9 511.7 588.8 516.7 591 521.4 593.5 525.7 596.2 529.5 599.2 532.8 602.4 535.8 605.8 538.2 609.4 540.1 613.2 541.6 617.2 542.5 621.4 543 625.6 542.9 630 542.4 634.5 541.3 639.1 539.7 643.7 537.7 648.4 535.1 653.1 532.1 657.8 528.6 662.5 524.7 667.1 520.3 671.7 515.6 676.2 510.4 680.7 504.9 685 499 689.2 492.9 693.2 486.4 697.1 479.6 700.7 472.6" stroke="#222" stroke-width="0.8" fill="none"/>
<path d="M720 413.6 721.4 406.2 722.6 398.8 723.5 391.6 724.1 384.5 724.5 377.5 724.5 370.7 724.2 364.2 723.7 357.9 722.9 351.8 721.7 346.1 720.3 340.7 718.6 335.6 716.7 330.9 714.5 326.5 712 322.6 709.3 319.1 706.4 316.1 703.3 313.4 699.9 311.3 696.4 309.6 692.7 308.4 688.8 307.7 684.8 307.4 680.7 307.6 676.5 308.4 672.1 309.6 667.7 311.2 663.3 313.4 658.8 316 654.3 319 649.8 322.5 645.3 326.4 640.9 330.7 636.5 335.4 632.2 340.5 628 345.9 623.9 351.7 620 357.7 616.2 364 612.5 370.5 609.1 377.3 605.8 384.3 602.8 391.4 599.9 398.6 597.3 406 595 413.4 592.9 420.9 591 428.3 589.5 435.7 588.2 443.1 587.1 450.4 586.4 457.6 586 464.6 585.8 471.5 586 478.1 586.4 484.5 587.2 490.7 588.2 496.5 589.5 502 591.1 507.3 592.9 512.1 595 516.6 597.4 520.6 600 524.3 602.8 527.5 605.9 530.3 609.2 532.6 612.6 534.5 616.3 535.9 620.1 536.8 624 537.2 628.1 537.2 632.3 536.6 636.6 535.6 641 534.1 645.4 532.1 649.9 529.7 654.4 526.8 658.9 523.5 663.4 519.7 667.8 515.6 672.2 511 676.6 506.1 680.8 500.8 684.9 495.2 688.9 489.2 692.8 483 696.5 476.6 700 469.9" stroke="#222" stroke-width="1.3" fill="none"/>
<path d="M716.7 413.1 718 406.4 719.1 399.7 719.9 393.1 720.5 386.6 720.8 380.3 720.8 374.1 720.6 368.2 720.1 362.5 719.3 357 718.3 351.7 717 346.8 715.5 342.2 713.7 337.9 711.7 334 709.5 330.4 707 327.3 704.4 324.5 701.5 322.1 698.5 320.1 695.3 318.6 691.9 317.5 688.4 316.8 684.8 316.6 681 316.8 677.2 317.5 673.2 318.6 669.2 320.1 665.2 322 661.1 324.4 657 327.2 652.9 330.3 648.8 333.9 644.8 337.8 640.8 342.1 636.9 346.7 633.1 351.6 629.4 356.8 625.8 362.3 622.4 368 619.1 374 615.9 380.1 613 386.5 610.2 392.9 607.6 399.5 605.2 406.2 603.1 412.9 601.2 419.7 599.5 426.5 598.1 433.3 596.9 440 596 446.6 595.3 453.1 594.9 459.5 594.8 465.7 594.9 471.8 595.3 477.6 596 483.2 596.9 488.5 598.1 493.5 599.5 498.2 601.2 502.6 603.1 506.7 605.3 510.4 607.7 513.7 610.2 516.7 613 519.2 616 521.3 619.1 523 622.5 524.3 625.9 525.1 629.5 525.5 633.2 525.4 637 524.9 640.9 524 644.9 522.6 648.9 520.8 653 518.6 657.1 516 661.2 513 665.3 509.6 669.3 505.8 673.3 501.6 677.2 497.2 681.1 492.4 684.8 487.3 688.5 481.9 692 476.2 695.4 470.4 698.6 464.3" stroke="#222" stroke-width="0.8" fill="none"/>
<path d="M716.7 378.8 716.6 374.2 716.3 369.7 715.8 365.4 715.2 361.3 714.3 357.4 713.4 353.6 712.2 350 710.9 346.7 709.4 343.6 707.8 340.7 706.1 338.1 704.2 335.7 702.1 333.6 700 331.7 697.7 330.2 695.3 328.9 692.8 327.8 690.1 327.1 687.4 326.7 684.7 326.5 681.8 326.6 678.9 327.1 675.9 327.8 672.8 328.8 669.8 330 666.7 331.6 663.6 333.4 660.4 335.5 657.3 337.9 654.2 340.5 651.1 343.3 648 346.4 645 349.8 642 353.3 639.1 357 636.2 361 633.5 365.1 630.8 369.4 628.2 373.8 625.7 378.4 623.3 383.1 621 388 618.8 392.9 616.8 397.9 614.9 403 613.2 408.1 611.6 413.3 610.1 418.4 608.9 423.6 607.7 428.8 606.8 433.9 606 439 605.3 444.1 604.9 449 604.6 453.9 604.5 458.7 604.6 463.3 604.8 467.8 605.2 472.2 605.8 476.4 606.6 480.4 607.5 484.2 608.6 487.8 609.8 491.2 611.2 494.4 612.8 497.4 614.5 500.1 616.4 502.5 618.4 504.7 620.5 506.7 622.7 508.4 625.1 509.7 627.6 510.9 630.2 511.7 632.8 512.2 635.6 512.5 638.4 512.4 641.4 512.1 644.3 511.5 647.3 510.6 650.4 509.4 653.5 507.9 656.6 506.2 659.7 504.2 662.9 501.9 666 499.4 669.1 496.6 672.2 493.6 675.2 490.4" stroke="#222" stroke-width="0.9" fill="none"/>
<path d="M712.7 381.5 712.5 377.4 712.3 373.4 711.9 369.6 711.3 366 710.6 362.4 709.7 359.1 708.7 356 707.5 353 706.2 350.2 704.8 347.7 703.2 345.3 701.5 343.2 699.7 341.4 697.8 339.7 695.8 338.3 693.6 337.2 691.4 336.3 689.1 335.6 686.7 335.2 684.2 335.1 681.7 335.2 679.1 335.6 676.4 336.2 673.7 337.1 671 338.2 668.3 339.6 665.5 341.2 662.7 343.1 660 345.2 657.2 347.5 654.4 350 651.7 352.8 649 355.7 646.4 358.8 643.8 362.2 641.3 365.7 638.8 369.3 636.4 373.1 634.1 377.1 631.9 381.1 629.7 385.3 627.7 389.6 625.8 394 624 398.4 622.3 402.9 620.8 407.5 619.4 412.1 618.1 416.6 617 421.2 616 425.8 615.1 430.4 614.4 434.9 613.8 439.4 613.4 443.8 613.2 448.1 613.1 452.3 613.1 456.5 613.4 460.5 613.7 464.3 614.3 468 614.9 471.6 615.7 475 616.7 478.2 617.8 481.2 619.1 484.1 620.5 486.7 622 489.1 623.6 491.3 625.4 493.2 627.3 495 629.3 496.4 631.4 497.7 633.6 498.7 635.9 499.4 638.2 499.9 640.7 500.1 643.2 500.1 645.8 499.8 648.4 499.2 651.1 498.4 653.8 497.4 656.6 496.1 659.3 494.5 662.1 492.8 664.9 490.7 667.6 488.5 670.4 486 673.1 483.4 675.8 480.5" stroke="#222" stroke-width="0.8" fill="none"/>
<path d="M709.7 383.4 709.6 379.7 709.3 376.2 709 372.7 708.4 369.4 707.8 366.2 707 363.2 706.1 360.3 705 357.6 703.8 355.1 702.5 352.8 701.1 350.7 699.6 348.8 698 347.1 696.2 345.6 694.4 344.3 692.4 343.3 690.4 342.5 688.3 341.9 686.1 341.5 683.9 341.4 681.6 341.5 679.2 341.8 676.8 342.4 674.4 343.2 671.9 344.2 669.4 345.5 666.9 346.9 664.4 348.6 661.9 350.5 659.4 352.6 656.9 354.9 654.4 357.4 652 360.1 649.6 362.9 647.2 365.9 645 369.1 642.7 372.4 640.5 375.9 638.5 379.4 636.4 383.1 634.5 386.9 632.7 390.8 631 394.8 629.3 398.8 627.8 402.9 626.4 407 625.1 411.2 624 415.3 622.9 419.5 622 423.7 621.2 427.8 620.6 431.9 620.1 436 619.7 439.9 619.5 443.9 619.4 447.7 619.5 451.4 619.7 455.1 620 458.6 620.5 461.9 621.1 465.2 621.8 468.2 622.7 471.1 623.7 473.9 624.8 476.5 626.1 478.8 627.5 481 629 483 630.6 484.8 632.3 486.3 634.1 487.7 636 488.8 638 489.7 640.1 490.3 642.2 490.8 644.4 491 646.7 491 649.1 490.7 651.5 490.2 653.9 489.5 656.3 488.5 658.8 487.3 661.3 485.9 663.8 484.3 666.4 482.5 668.9 480.5 671.4 478.2 673.8 475.8 676.3 473.2" stroke="#222" stroke-width="1.3" fill="none"/>
<path d="M693 277.5 C691.2 277.1 685.8 275.3 682 275 C678.2 274.7 675.3 274.3 670 275.5 C664.7 276.7 657.5 278.6 650 282.2 C642.5 285.8 632.9 289 625 297 C617.1 305 608.4 322 602.9 330 C597.4 338 594.5 340.7 592 345 C589.5 349.3 589.7 352 588 356 C586.3 360 584.6 365.4 581.8 369 C579 372.6 574 374.6 571 377.5 C568 380.4 565.4 382.6 563.5 386.3 C561.6 390.1 561.1 394.9 559.7 400 C558.3 405.1 556.3 411.2 555 417 C553.7 422.8 552.4 427.8 551.8 435 C551.2 442.2 551.2 453.8 551.3 460 C551.4 466.2 551.5 466.4 552.4 472 C553.3 477.6 554.3 486 556.9 493.8 C559.5 501.6 562.6 512.2 568.2 518.6 C573.8 525 583.6 528.9 590.7 532 C597.8 535.1 607.6 536.2 611 537" stroke="#111" stroke-width="1.6" fill="none"/>
<path d="M622 297.5 C618.3 303 605.4 322.5 599.9 330.5 C594.4 338.5 591.5 341.2 589 345.5 C586.5 349.8 586.7 352.5 585 356.5 C583.3 360.5 581.6 365.9 578.8 369.5 C576 373.1 571 375.1 568 378 C565 380.9 562.4 383.1 560.5 386.8 C558.6 390.6 558.1 395.4 556.7 400.5 C555.3 405.6 553.3 411.7 552 417.5 C550.7 423.3 549.4 428.3 548.8 435.5 C548.2 442.7 548.2 454.3 548.3 460.5 C548.4 466.7 548.5 466.9 549.4 472.5 C550.3 478.1 551.3 486.5 553.9 494.3 C556.5 502.1 559.6 512.7 565.2 519.1 C570.8 525.5 580.6 529.4 587.7 532.5 C594.8 535.6 604.6 536.7 608 537.5" stroke="#333" stroke-width="0.7" fill="none"/>
</g>
<path d="M412 164 C414.3 164.3 421.3 164.6 426 165.6 C430.7 166.6 434.3 168.3 440 170 C445.7 171.7 453.3 173.8 460 176 C466.7 178.2 473.3 180.7 480 183 C486.7 185.3 494.7 188.3 500 190 C505.3 191.7 508.7 191.7 512 193 C515.3 194.3 517.3 196.6 520 198 C522.7 199.4 524.7 200.3 528 201.6 C531.3 202.9 534.7 203.6 540 206 C545.3 208.4 553.3 213 560 216 C566.7 219 573.3 221.7 580 224 C586.7 226.3 592.5 227.3 600 230 C607.5 232.7 616.7 236.5 625 240 C633.3 243.5 643.9 248.6 650 251.2 C656.1 253.8 657.7 254.2 661.6 255.8 C665.5 257.4 670 258.9 673.2 260.5 C676.4 262.1 678.7 263.4 681 265.1 C683.3 266.8 685.1 268.7 687.2 270.6 C689.3 272.6 691.6 275.3 693.4 276.8 C695.2 278.3 696.2 278.5 698 279.5 C699.8 280.5 702.1 281.5 704.2 283 C706.3 284.5 708.5 286.3 710.4 288.4 C712.3 290.4 714.3 293.4 715.8 295.3 C717.3 297.2 718.1 297.3 719.2 300 C720.3 302.7 721.6 307.6 722.5 311.3 C723.4 315.1 724.2 318.8 724.8 322.5 C725.4 326.2 725.7 330.1 725.9 333.8 C726.1 337.6 726.1 341.2 726.1 345 C726.1 348.8 726 352.5 725.9 356.3 C725.8 360.1 725.6 363.8 725.4 367.6 C725.2 371.4 725 375.2 724.6 378.9 C724.2 382.6 723.8 386.2 723.2 390 C722.7 393.8 722.2 397.5 721.3 401.4 C720.3 405.3 718.8 411.1 717.5 413.5 C716.2 415.9 714.6 414.4 713.8 415.5 C713 416.6 713.4 417.6 712.6 420 C711.9 422.4 710.7 426.4 709.3 429.6 C707.9 432.8 706 436.1 704.4 439.4 C702.8 442.7 701.2 445.9 699.4 449.3 C697.5 452.7 695.1 456.7 693.3 460 C691.5 463.3 690.3 466.2 688.6 469 C686.9 471.8 685.8 473.1 683.2 476.9 C680.6 480.6 676.3 487.2 673.1 491.5 C669.9 495.8 667 499.4 664 502.8 C661 506.2 658.4 508.8 655 511.8 C651.6 514.8 647.5 518.2 643.8 520.8 C640 523.4 636.2 525.5 632.5 527.6 C628.8 529.7 625 531.7 621.3 533.2 C617.5 534.7 613.5 535.9 610 536.5 C606.5 537.1 604.5 537.1 600.2 536.9 C595.9 536.7 589.3 535.8 584.2 535.3 C579.1 534.8 573.7 534.5 569.7 533.7 C565.7 532.9 564.3 532.1 560 530.5 C555.7 528.9 549.3 526.2 544 524.1 C538.7 522 533.3 519.8 528 517.7 C522.7 515.6 517.3 513.4 512 511.3 C506.7 509.2 501.3 507 496 504.9 C490.7 502.8 486 501.6 480 498.5 C474 495.4 466.7 489.1 460 486 C453.3 482.9 446.7 482 440 480 C433.3 478 426.7 476.3 420 474 C413.3 471.7 406.7 468.3 400 466 C393.3 463.7 385.7 461.8 380 460 C374.3 458.2 370.7 456.8 366 455 C361.3 453.2 356.3 451 352 449 C347.7 447 343.7 444.7 340 443 C336.3 441.3 333.3 440.5 330 439 C326.7 437.5 321.7 434.8 320 434 A65.3 141.6 19.5 0 1 412.6 163.7Z" fill="none" stroke="#111" stroke-width="2.1"/>
<rect x="298.8" y="369.5" width="2.6" height="4.5" fill="#111"/>
<path d="M325.5 228.5 L312.4 257.6 Q311.6 260.2 314 260.4 L316.6 259.6" fill="none" stroke="#333" stroke-width="0.8"/>
<ellipse cx="666.8" cy="414.3" rx="33.6" ry="67.3" transform="rotate(19.5 666.8 414.3)" fill="#dadada" stroke="#111" stroke-width="1.8"/>
<ellipse cx="665.5" cy="414.8" rx="35.8" ry="71.5" transform="rotate(19.5 665.5 414.8)" fill="none" stroke="#222" stroke-width="0.9"/>
<path d="M640.4 501.4 C642.3 500.5 648.1 498.1 652 496 C655.9 493.9 660 491.8 664 489 C668 486.2 672.2 482.8 676 479 C679.8 475.2 683.4 471 687 466 C690.6 461 696 451.8 697.8 449" stroke="#1a1a1a" stroke-width="5.5" fill="none" stroke-linecap="round"/>
<path d="M640.4 501.4 C642.3 500.5 648.1 498.1 652 496 C655.9 493.9 660 491.8 664 489 C668 486.2 672.2 482.8 676 479 C679.8 475.2 683.4 471 687 466 C690.6 461 696 451.8 697.8 449" stroke="#dcdcdc" stroke-width="2.6" fill="none" stroke-dasharray="2.6 2.1"/>
<path d="M625.5 501.5l-8 -3 -3 6.5 8 3z M617.5 498.5l-6 -2.2 -2.6 6.3 6 2.2" fill="#d9d9d9" stroke="#222" stroke-width="0.9"/>
<path d="M631 493.5l8.5-1.5 1.5 7.5-8.5 1.5z" fill="#d9d9d9" stroke="#222" stroke-width="0.9"/>
<g transform="matrix(0.9 0.3 -0.2 1 499.7 380)"><rect x="2.6" y="2.4" width="36" height="21" rx="2.6" fill="#cfcfcf" stroke="#111" stroke-width="1.3"/><rect x="0" y="0" width="36" height="21" rx="2.6" fill="#e4e4e4" stroke="#111" stroke-width="1.8"/><path d="M6 1.2V19.8" stroke="#444" stroke-width="0.7"/><path d="M8.2 1.2V19.8" stroke="#444" stroke-width="0.7"/><path d="M16.5 1.2V19.8" stroke="#444" stroke-width="0.7"/><path d="M18.7 1.2V19.8" stroke="#444" stroke-width="0.7"/><path d="M28 1.2V19.8" stroke="#333" stroke-width="0.9"/></g>
<g transform="matrix(0.9 0.3 -0 1 489.2 439.8)"><rect x="2.6" y="2.4" width="34.5" height="20.5" rx="2.6" fill="#cfcfcf" stroke="#111" stroke-width="1.3"/><rect x="0" y="0" width="34.5" height="20.5" rx="2.6" fill="#e4e4e4" stroke="#111" stroke-width="1.8"/><path d="M6 1.2V19.3" stroke="#444" stroke-width="0.7"/><path d="M8.2 1.2V19.3" stroke="#444" stroke-width="0.7"/><path d="M16.5 1.2V19.3" stroke="#444" stroke-width="0.7"/><path d="M18.7 1.2V19.3" stroke="#444" stroke-width="0.7"/><path d="M26.5 1.2V19.3" stroke="#333" stroke-width="0.9"/></g>
<path d="M507 362l-2.2 8.4 10.2 6.8 1 4.6 M523.4 378.9l-1.1 4.5" stroke="#111" stroke-width="1.3" fill="none"/>
<path d="M512.8 385L512.2 396.5 M504.3 440.5L504.1 456.5" stroke="#111" stroke-width="2" fill="none"/>
<path d="M506 436.5L505.8 442.5 M511.6 439L511.4 445" stroke="#111" stroke-width="1.3" fill="none"/>
<g font-family="Liberation Sans, sans-serif" fill="#1a1a1a" stroke="#1a1a1a" stroke-width="0.25">
<text x="495.8" y="359.4" transform="rotate(19.5 495.8 359.4)" font-size="10" textLength="25.5" lengthAdjust="spacingAndGlyphs">FOCUS</text>
<text x="511.6" y="377.2" transform="rotate(20 511.6 377.2)" font-size="10" textLength="36" lengthAdjust="spacingAndGlyphs">CONTROL</text>
<text x="488.6" y="429.4" transform="rotate(19.5 488.6 429.4)" font-size="9.6" textLength="40" lengthAdjust="spacingAndGlyphs">STABILIZER</text>
<text x="492.4" y="439.8" transform="rotate(20 492.4 439.8)" font-size="9.2" textLength="10.5" lengthAdjust="spacingAndGlyphs">ON</text>
<text x="513.4" y="448.2" transform="rotate(20 513.4 448.2)" font-size="9.2" textLength="13.5" lengthAdjust="spacingAndGlyphs">OFF</text>
<text x="557.5" y="279.2" transform="rotate(-33 557.5 279.2)" font-size="14.5" font-family="Liberation Serif, serif" font-weight="bold" stroke="#1a1a1a" stroke-width="0.35" textLength="49" lengthAdjust="spacingAndGlyphs">Canon</text>
<text x="585.5" y="287" transform="rotate(-34 585.5 287)" font-size="12.5" textLength="44" lengthAdjust="spacingAndGlyphs">24-105</text>
<text x="542.5" y="253.5" transform="rotate(-30 542.5 253.5)" font-size="7" >24</text>
<text x="561.5" y="242" transform="rotate(-27 561.5 242)" font-size="7" >35</text>
<text x="573.5" y="235" transform="rotate(-25 573.5 235)" font-size="7" >50</text>
</g>
<path d="M557.5 253.2l5.5 2" stroke="#111" stroke-width="1.6"/>
<ellipse cx="581.6" cy="437.8" rx="3.2" ry="5" transform="rotate(25 581.6 437.8)" fill="none" stroke="#333" stroke-width="0.8"/>
<ellipse cx="580.6" cy="464.2" rx="3" ry="5.4" transform="rotate(30 580.6 464.2)" fill="none" stroke="#333" stroke-width="0.8"/>
<ellipse cx="664.5" cy="299.5" rx="2.6" ry="4.2" transform="rotate(20 664.5 299.5)" fill="none" stroke="#333" stroke-width="0.8"/>
<path id="tp" d="M627.8 390.5 629 388 630.1 385.5 631.3 383 632.6 380.6 633.8 378.2 635.1 375.8 636.4 373.5 637.8 371.3 639.2 369 640.6 366.8 642 364.7 643.4 362.6 644.9 360.6 646.4 358.6 647.9 356.6 649.4 354.8 650.9 352.9 652.5 351.2 654.1 349.5 655.6 347.8 657.2 346.3 658.8 344.8 660.4 343.3 662 342 663.6 340.6 665.2 339.4 666.8 338.3 668.4 337.2 670.1 336.1 671.7 335.2 673.3 334.3 674.9 333.6 676.4 332.8 678 332.2 679.6 331.7 681.1 331.2 682.7 330.8 684.2 330.5 685.7 330.2 687.2 330.1 688.7 330 690.2 330 691.6 330.1 693 330.2 694.4 330.5 695.8 330.8 697.1 331.2 698.4 331.7 699.7 332.2 700.9 332.9 702.2 333.6 703.4 334.4 704.5 335.2 705.6 336.2 706.7 337.2 707.8 338.3 708.8 339.4 709.8 340.7 710.7 342" fill="none"/>
<text font-family="Liberation Sans, sans-serif" font-size="6" fill="#444" letter-spacing="0.2"><textPath href="#tp" startOffset="2">CANON INC.   MADE IN TAIWAN</textPath></text>
<rect x="-4.2" y="-2.4" width="8.4" height="4.8" rx="2.4" fill="#111" transform="translate(570.8 405.4) rotate(22)"/>
<path d="M401.6 88.5H431.6V177.6 M531 88.5H501.8V393 M585 142.7H560.5V252.4 M297.4 196.3H325.8V234.8 M203.8 349.3V316.4H257.1 M392.2 504.9H426.9V454.8 M457.3 537.8H493.7V452.6 M534.9 577H570.4V407.8 M599.9 512.9V577H634.9 M665.4 493V528.6H700.5" fill="none" stroke="#fff" stroke-width="3.4" clip-path="url(#sil)"/><path d="M401.6 88.5H431.6V177.6 M531 88.5H501.8V393 M585 142.7H560.5V252.4 M297.4 196.3H325.8V234.8 M203.8 349.3V316.4H257.1 M392.2 504.9H426.9V454.8 M457.3 537.8H493.7V452.6 M534.9 577H570.4V407.8 M599.9 512.9V577H634.9 M665.4 493V528.6H700.5" fill="none" stroke="#5c5c5c" stroke-width="1.4"/><path d="M261.2 316.4H286.9" stroke="#5c5c5c" stroke-width="1.4" stroke-dasharray="5.2 5"/>
</svg>
<div class="l" style="left:185.6px;top:77.8px;font-size:17.5px">Focusing/control ring (<svg class="ar" viewBox="0 0 18.8 10"><path d="M0.3 5H16" stroke="#1a1a1a" stroke-width="1.1"/><path d="M12.4 2.1L16.3 5L12.4 7.9" stroke="#1a1a1a" stroke-width="1" fill="none"/><path d="M14.2 3.6L16.6 5L14.2 6.4Z" fill="#1a1a1a"/></svg> 7)</div><div class="l" style="left:537.6px;top:78.9px;font-size:17.4px">Focusing/control selector switch (<svg class="ar" viewBox="0 0 18.8 10"><path d="M0.3 5H16" stroke="#1a1a1a" stroke-width="1.1"/><path d="M12.4 2.1L16.3 5L12.4 7.9" stroke="#1a1a1a" stroke-width="1" fill="none"/><path d="M14.2 3.6L16.6 5L14.2 6.4Z" fill="#1a1a1a"/></svg> 7)</div><div class="l" style="left:591.5px;top:134.1px;font-size:17.5px">Zoom position index (<svg class="ar" viewBox="0 0 18.8 10"><path d="M0.3 5H16" stroke="#1a1a1a" stroke-width="1.1"/><path d="M12.4 2.1L16.3 5L12.4 7.9" stroke="#1a1a1a" stroke-width="1" fill="none"/><path d="M14.2 3.6L16.6 5L14.2 6.4Z" fill="#1a1a1a"/></svg> 10)</div><div class="l" style="left:140.3px;top:186.1px;font-size:17.4px">Hood mount (<svg class="ar" viewBox="0 0 18.8 10"><path d="M0.3 5H16" stroke="#1a1a1a" stroke-width="1.1"/><path d="M12.4 2.1L16.3 5L12.4 7.9" stroke="#1a1a1a" stroke-width="1" fill="none"/><path d="M14.2 3.6L16.6 5L14.2 6.4Z" fill="#1a1a1a"/></svg> 13)</div><div class="l" style="left:104px;top:351.7px;font-size:17.4px">Filter mounting thread</div><div class="l" style="left:104px;top:371.1px;font-size:17.5px">(<svg class="ar" viewBox="0 0 18.8 10"><path d="M0.3 5H16" stroke="#1a1a1a" stroke-width="1.1"/><path d="M12.4 2.1L16.3 5L12.4 7.9" stroke="#1a1a1a" stroke-width="1" fill="none"/><path d="M14.2 3.6L16.6 5L14.2 6.4Z" fill="#1a1a1a"/></svg> 14)</div><div class="l" style="left:251.4px;top:495px;font-size:17.6px">Zoom ring (<svg class="ar" viewBox="0 0 18.8 10"><path d="M0.3 5H16" stroke="#1a1a1a" stroke-width="1.1"/><path d="M12.4 2.1L16.3 5L12.4 7.9" stroke="#1a1a1a" stroke-width="1" fill="none"/><path d="M14.2 3.6L16.6 5L14.2 6.4Z" fill="#1a1a1a"/></svg> 10)</div><div class="l" style="left:222.2px;top:527.9px;font-size:17.5px">Image stabilizer switch (<svg class="ar" viewBox="0 0 18.8 10"><path d="M0.3 5H16" stroke="#1a1a1a" stroke-width="1.1"/><path d="M12.4 2.1L16.3 5L12.4 7.9" stroke="#1a1a1a" stroke-width="1" fill="none"/><path d="M14.2 3.6L16.6 5L14.2 6.4Z" fill="#1a1a1a"/></svg> 11)</div><div class="l" style="left:344.9px;top:566.4px;font-size:17.5px">Lens mount index (<svg class="ar" viewBox="0 0 18.8 10"><path d="M0.3 5H16" stroke="#1a1a1a" stroke-width="1.1"/><path d="M12.4 2.1L16.3 5L12.4 7.9" stroke="#1a1a1a" stroke-width="1" fill="none"/><path d="M14.2 3.6L16.6 5L14.2 6.4Z" fill="#1a1a1a"/></svg> 6)</div><div class="l" style="left:636.4px;top:566.4px;font-size:17.5px">Lens mount (<svg class="ar" viewBox="0 0 18.8 10"><path d="M0.3 5H16" stroke="#1a1a1a" stroke-width="1.1"/><path d="M12.4 2.1L16.3 5L12.4 7.9" stroke="#1a1a1a" stroke-width="1" fill="none"/><path d="M14.2 3.6L16.6 5L14.2 6.4Z" fill="#1a1a1a"/></svg> 6)</div><div class="l" style="left:703px;top:519px;font-size:17.4px">Contacts (<svg class="ar" viewBox="0 0 18.8 10"><path d="M0.3 5H16" stroke="#1a1a1a" stroke-width="1.1"/><path d="M12.4 2.1L16.3 5L12.4 7.9" stroke="#1a1a1a" stroke-width="1" fill="none"/><path d="M14.2 3.6L16.6 5L14.2 6.4Z" fill="#1a1a1a"/></svg> 6)</div><div class="l" style="left:72.4px;top:609.2px;font-size:19.9px">For detailed information, reference page numbers are provided in parentheses (<svg class="ar" viewBox="0 0 18.8 10"><path d="M0.3 5H16" stroke="#1a1a1a" stroke-width="1.1"/><path d="M12.4 2.1L16.3 5L12.4 7.9" stroke="#1a1a1a" stroke-width="1" fill="none"/><path d="M14.2 3.6L16.6 5L14.2 6.4Z" fill="#1a1a1a"/></svg> **).</div><div class="l" style="left:878.4px;top:665.2px;font-size:20px">ENG-5</div>
<div class="bul"></div>
</body></html>
